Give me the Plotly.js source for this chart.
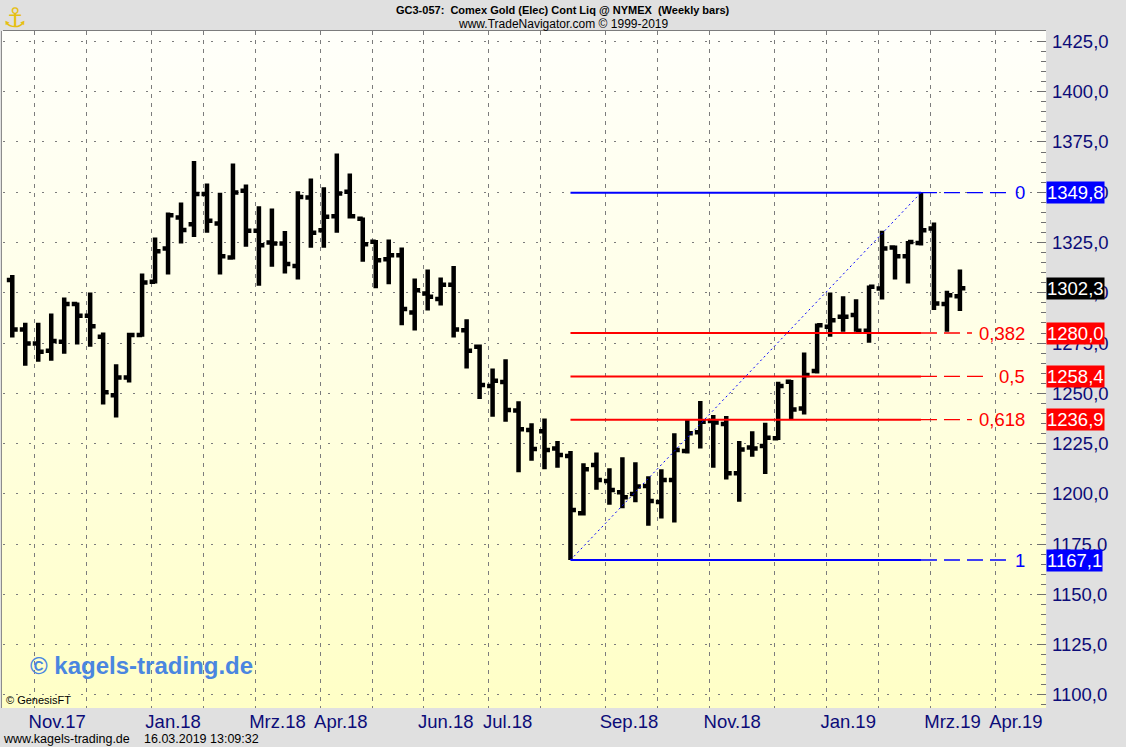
<!DOCTYPE html>
<html>
<head>
<meta charset="utf-8">
<script src="https://cdn.plot.ly/plotly-3.0.1.min.js"></script>
<style>
  html, body { margin: 0; padding: 0; background: #e0e0e0; }
  #wrap { position: relative; width: 1126px; height: 747px; background: #e0e0e0; overflow: hidden; }
  #bg { position: absolute; left: 1px; top: 31px; width: 1044px; height: 677px;
        border-left: 1px solid #8c8c8c;
        background: linear-gradient(to bottom, #fffffa 0%, #ffffe6 45%, #ffffc6 100%); }
  #chart { position: absolute; left: 0; top: 0; width: 1126px; height: 747px; }
</style>
</head>
<body>
<div id="wrap"><div id="bg"></div><div id="chart"></div></div>
<script>
// ---- data (weekly bars, dated by Friday) ----
const barDates = [
  '2017-10-20','2017-10-27','2017-11-03','2017-11-10','2017-11-17','2017-11-24',
  '2017-12-01','2017-12-08','2017-12-15','2017-12-22','2017-12-29',
  '2018-01-05','2018-01-12','2018-01-19','2018-01-26','2018-02-02','2018-02-09',
  '2018-02-16','2018-02-23','2018-03-02','2018-03-09','2018-03-16','2018-03-23',
  '2018-03-30','2018-04-06','2018-04-13','2018-04-20','2018-04-27','2018-05-04',
  '2018-05-11','2018-05-18','2018-05-25','2018-06-01','2018-06-08','2018-06-15',
  '2018-06-22','2018-06-29','2018-07-06','2018-07-13','2018-07-20','2018-07-27',
  '2018-08-03','2018-08-10','2018-08-17','2018-08-24','2018-08-31','2018-09-07',
  '2018-09-14','2018-09-21','2018-09-28','2018-10-05','2018-10-12','2018-10-19',
  '2018-10-26','2018-11-02','2018-11-09','2018-11-16','2018-11-23','2018-11-30',
  '2018-12-07','2018-12-14','2018-12-21','2018-12-28',
  '2019-01-04','2019-01-11','2019-01-18','2019-01-25','2019-02-01','2019-02-08',
  '2019-02-15','2019-02-22','2019-03-01','2019-03-08','2019-03-15'
];
const openP = [
  1306.3,1281.8,1274.8,1271.2,1275.7,1294.4,1288.6,1278.1,1249.1,1257.9,1279.0,
  1305.5,1322.0,1337.5,1334.1,1349.1,1334.5,1317.6,1350.7,1330.8,1325.0,1324.5,
  1313.3,1347.4,1331.1,1338.1,1350.2,1336.8,1325.4,1316.7,1318.7,1290.2,1299.7,
  1296.9,1304.0,1281.4,1273.2,1253.6,1255.6,1241.4,1231.7,1231.2,1222.6,1218.8,
  1190.3,1214.3,1206.4,1200.8,1199.9,1203.9,1196.0,1206.9,1221.3,1230.6,1236.2,
  1234.7,1210.2,1223.0,1223.8,1227.6,1255.8,1242.5,1261.1,1283.1,1288.1,1288.9,
  1281.1,1302.1,1322.5,1318.2,1324.8,1332.0,1294.4,1298.3
];
const highP = [
  1308.8,1285.1,1285.1,1289.7,1297.7,1295.2,1300.2,1280.3,1264.4,1280.1,1309.6,
  1327.5,1339.9,1344.9,1365.5,1354.4,1349.7,1364.3,1353.9,1343.1,1341.9,1330.7,
  1350.5,1356.8,1352.5,1369.3,1359.3,1337.5,1326.2,1326.5,1322.5,1307.1,1311.6,
  1307.6,1313.3,1286.8,1274.3,1262.4,1266.9,1246.0,1235.1,1237.5,1226.3,1221.3,
  1215.2,1220.6,1212.7,1218.2,1215.7,1208.7,1212.2,1230.1,1236.7,1246.2,1239.2,
  1238.7,1226.3,1231.2,1235.4,1255.8,1256.6,1270.3,1284.7,1300.2,1298.3,1296.8,
  1303.6,1330.8,1323.5,1325.8,1349.8,1335.0,1301.0,1311.6
];
const lowP = [
  1277.8,1263.7,1265.7,1266.2,1269.7,1274.3,1273.2,1244.5,1238.0,1255.4,1278.1,
  1304.6,1309.1,1324.5,1327.8,1329.8,1309.1,1316.6,1322.9,1303.5,1312.9,1309.6,
  1306.6,1322.4,1322.4,1329.8,1337.0,1315.4,1302.2,1304.2,1283.8,1281.3,1291.2,
  1293.7,1277.8,1262.4,1247.2,1238.4,1235.9,1210.7,1216.5,1212.2,1213.0,1167.1,
  1189.2,1202.1,1194.6,1192.8,1195.8,1184.2,1187.8,1185.7,1220.1,1222.5,1213.0,
  1207.2,1196.1,1218.5,1209.9,1226.8,1236.7,1239.5,1259.9,1278.1,1280.6,1280.6,
  1275.1,1296.7,1306.6,1304.6,1323.5,1291.4,1280.6,1290.9
];
const closeP = [
  1281.8,1274.8,1270.7,1276.0,1294.4,1288.6,1283.4,1250.5,1257.9,1279.0,1305.1,
  1320.7,1338.6,1331.2,1349.1,1335.8,1318.2,1349.9,1330.8,1323.7,1324.5,1314.3,
  1347.7,1329.8,1337.8,1349.4,1338.1,1324.2,1316.2,1318.7,1291.9,1301.3,1298.0,
  1304.0,1281.8,1271.2,1254.1,1256.3,1241.7,1232.1,1222.3,1221.8,1219.3,1192.0,
  1212.2,1206.9,1201.9,1198.3,1203.6,1196.4,1206.9,1221.8,1230.1,1235.9,1235.5,
  1210.2,1222.1,1222.6,1227.9,1253.6,1242.0,1259.1,1283.9,1286.4,1288.1,1281.1,
  1303.0,1322.0,1318.2,1325.3,1331.1,1294.7,1298.8,1302.3
];
// months shown on the time axis (Nov 2017 .. Apr 2019); blank = grid line only
const monthLabels = ['Nov.17','','Jan.18','','Mrz.18','Apr.18','','Jun.18','Jul.18','',
                     'Sep.18','','Nov.18','','Jan.19','','Mrz.19','Apr.19'];
const fibLabels = ['0','0,382','0,5','0,618','1'];
const fibPrices = [1349.8, 1280.0, 1258.4, 1236.9, 1167.1];
const swingLowDate = '2018-08-17';
const swingHighDate = '2019-02-22';
const lastClose = 1302.3;

// ---- styling ----
const FONT = 'Liberation Sans, Arial, sans-serif';
const NAVY = '#0c0c78';
const BLUE = '#0000ff';
const RED = '#ff0000';
const fibColors = [BLUE, RED, RED, RED, BLUE];
const fibExt = [89, 51, 66, 51, 89];   // px length of dashed extension

// month grid positions: first weekly bar of each month, 2 days earlier
function pad(n){ return (n < 10 ? '0' : '') + n; }
const gridDates = [];
for (let i = 0; i < monthLabels.length; i++) {
  const y = 2017 + Math.floor((10 + i) / 12);
  const m = (10 + i) % 12;
  const d1 = new Date(Date.UTC(y, m, 1));
  const firstFri = 1 + ((5 - d1.getUTCDay() + 7) % 7);
  const g = new Date(Date.UTC(y, m, firstFri - 2));
  gridDates.push(g.getUTCFullYear() + '-' + pad(g.getUTCMonth() + 1) + '-' + pad(g.getUTCDate()));
}
const fmt = v => v.toFixed(1).replace('.', ',');

const traces = [
  {
    type: 'ohlc', x: barDates, open: openP, high: highP, low: lowP, close: closeP,
    increasing: { line: { color: '#000000', width: 4.5 } },
    decreasing: { line: { color: '#000000', width: 4.5 } },
    tickwidth: 0.42, hoverinfo: 'skip', showlegend: false
  },
  { type: 'scatter', x: [barDates[0]], y: [null], xaxis: 'x2', yaxis: 'y',
    mode: 'markers', hoverinfo: 'skip', showlegend: false }
];

const shapes = [];
fibPrices.forEach((p, i) => {
  shapes.push({ type: 'line', xref: 'x', yref: 'y', x0: swingLowDate, x1: swingHighDate,
    y0: p, y1: p, line: { color: fibColors[i], width: 2 } });
  shapes.push({ type: 'line', xref: 'x', yref: 'y', xsizemode: 'pixel', xanchor: swingHighDate,
    x0: 0, x1: fibExt[i], y0: p, y1: p,
    line: { color: fibColors[i], width: 1.3, dash: '16px,7px' } });
});
shapes.push({ type: 'line', xref: 'x', yref: 'y', x0: swingLowDate, y0: fibPrices[4],
  x1: swingHighDate, y1: fibPrices[0], line: { color: BLUE, width: 1, dash: '2px,3px' } });

const annotations = [];
fibPrices.forEach((p, i) => {
  annotations.push({ xref: 'paper', yref: 'y', x: 0.9815, y: p, xanchor: 'right', yanchor: 'middle',
    text: fibLabels[i], showarrow: false, font: { family: FONT, size: 18.5, color: fibColors[i] } });
  annotations.push({ xref: 'paper', yref: 'y', x: 1, y: p, xanchor: 'left', yanchor: 'middle',
    text: fmt(p), showarrow: false, bgcolor: fibColors[i], borderpad: 0, height: 21,
    font: { family: FONT, size: 18.5, color: '#ffffff' } });
});
annotations.push({ xref: 'paper', yref: 'y', x: 1, y: lastClose, xanchor: 'left', yanchor: 'middle',
  text: fmt(lastClose), showarrow: false, bgcolor: '#000000', borderpad: 0, height: 21,
  font: { family: FONT, size: 18.5, color: '#ffffff' } });
// header
annotations.push({ xref: 'paper', yref: 'paper', x: 0.537, y: 1.031, xanchor: 'center', yanchor: 'middle',
  text: '<b>GC3-057:\u00a0 Comex Gold (Elec) Cont Liq @ NYMEX\u00a0 (Weekly bars)</b>', showarrow: false,
  font: { family: FONT, size: 11, color: '#000000' } });
annotations.push({ xref: 'paper', yref: 'paper', x: 0.537, y: 1.0103, xanchor: 'center', yanchor: 'middle',
  text: 'www.TradeNavigator.com © 1999-2019', showarrow: false,
  font: { family: FONT, size: 12, color: '#000000' } });
annotations.push({ xref: 'paper', yref: 'paper', x: 0.0115, y: 1.0205, xanchor: 'center', yanchor: 'middle',
  text: '⚓', showarrow: false, font: { family: 'DejaVu Sans', size: 27, color: '#e6bf12' } });
// watermark & credits
annotations.push({ xref: 'paper', yref: 'paper', x: 0.0235, y: 0.0635, xanchor: 'left', yanchor: 'middle',
  text: '<b>© kagels-trading.de</b>', showarrow: false,
  font: { family: FONT, size: 24, color: '#4a86e0' } });
annotations.push({ xref: 'paper', yref: 'paper', x: 0.001, y: 0.012, xanchor: 'left', yanchor: 'middle',
  text: '© GenesisFT', showarrow: false, font: { family: FONT, size: 11, color: '#000000' } });
annotations.push({ xref: 'paper', yref: 'paper', x: -0.002, y: -0.0455, xanchor: 'left', yanchor: 'middle',
  text: 'www.kagels-trading.de', showarrow: false, font: { family: FONT, size: 12.5, color: '#000000' } });
annotations.push({ xref: 'paper', yref: 'paper', x: 0.1335, y: -0.0455, xanchor: 'left', yanchor: 'middle',
  text: '16.03.2019 13:09:32', showarrow: false, font: { family: FONT, size: 12.5, color: '#000000' } });

const layout = {
  width: 1126, height: 747,
  margin: { l: 3, r: 80, t: 31, b: 39, pad: 0 },
  paper_bgcolor: 'rgba(0,0,0,0)', plot_bgcolor: 'rgba(0,0,0,0)',
  separators: ',.',
  hovermode: false, dragmode: false, showlegend: false,
  font: { family: FONT },
  xaxis: {
    type: 'date', range: ['2017-10-15', '2019-04-30 10:00'],
    rangeslider: { visible: false },
    tickmode: 'array', tickvals: gridDates, ticktext: monthLabels,
    ticks: '', ticklabelposition: 'outside right', ticklabelshift: -6,
    tickfont: { family: FONT, size: 18.5, color: NAVY },
    showgrid: true, gridcolor: '#7c7c7c', gridwidth: 1, griddash: '4px,5px',
    showline: false, zeroline: false, fixedrange: true
  },
  xaxis2: {
    type: 'date', overlaying: 'x', matches: 'x', side: 'top', anchor: 'y',
    tickmode: 'array', tickvals: gridDates, ticks: 'inside', ticklen: 4, tickcolor: '#7c7c7c',
    showticklabels: false, showgrid: false, showline: true, linecolor: '#7c7c7c', linewidth: 1,
    zeroline: false, fixedrange: true
  },
  yaxis: {
    side: 'right', range: [1093.5, 1430.2],
    tick0: 1100, dtick: 25, tickformat: '.1f',
    ticks: 'inside', ticklen: 9, tickcolor: '#707070', tickwidth: 1,
    ticklabelstandoff: 5,
    minor: { dtick: 5, ticks: 'inside', ticklen: 5, tickcolor: '#707070', tickwidth: 1, showgrid: false },
    tickfont: { family: FONT, size: 18.5, color: NAVY },
    showgrid: true, gridcolor: '#7c7c7c', gridwidth: 1, griddash: '2px,11px',
    showline: false, zeroline: false, fixedrange: true
  },
  shapes: shapes,
  annotations: annotations
};

Plotly.newPlot('chart', traces, layout, { displayModeBar: false, staticPlot: true });
</script>
</body>
</html>
